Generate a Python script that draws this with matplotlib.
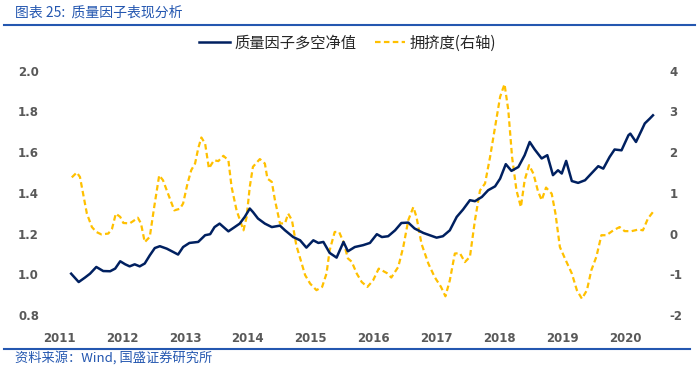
import matplotlib
matplotlib.use('Agg')
import matplotlib.pyplot as plt
from matplotlib.lines import Line2D

plt.rcParams['font.family'] = ['Noto Sans CJK SC', 'DejaVu Sans']

# 质量因子多空净值 (left axis), x in fractional years
qual_t = [2011.19, 2011.31, 2011.41, 2011.49, 2011.59, 2011.70, 2011.81, 2011.89, 2011.97,
          2012.05, 2012.12, 2012.20, 2012.28, 2012.36, 2012.44, 2012.52, 2012.60, 2012.71,
          2012.81, 2012.89, 2012.97, 2013.07, 2013.21, 2013.32, 2013.40, 2013.47, 2013.55,
          2013.69, 2013.79, 2013.87, 2013.95, 2014.03, 2014.08, 2014.16, 2014.27, 2014.38,
          2014.51, 2014.59, 2014.72, 2014.83, 2014.93, 2015.04, 2015.12, 2015.20, 2015.30,
          2015.41, 2015.52, 2015.59, 2015.70, 2015.83, 2015.94, 2016.05, 2016.13, 2016.23,
          2016.34, 2016.44, 2016.55, 2016.65, 2016.79, 2016.89, 2017.00, 2017.10, 2017.21,
          2017.32, 2017.42, 2017.53, 2017.61, 2017.72, 2017.82, 2017.93, 2018.01, 2018.10,
          2018.19, 2018.30, 2018.40, 2018.48, 2018.56, 2018.67, 2018.76, 2018.85, 2018.93,
          2018.99, 2019.06, 2019.15, 2019.25, 2019.36, 2019.46, 2019.57, 2019.65, 2019.75,
          2019.83, 2019.94, 2020.05, 2020.08, 2020.17, 2020.26, 2020.31, 2020.39, 2020.44]
qual_v = [1.003, 0.962, 0.984, 1.003, 1.036, 1.016, 1.015, 1.028, 1.064,
          1.049, 1.039, 1.049, 1.039, 1.053, 1.093, 1.129, 1.138, 1.126,
          1.110, 1.097, 1.134, 1.154, 1.159, 1.192, 1.197, 1.232, 1.249,
          1.211, 1.232, 1.249, 1.282, 1.323, 1.306, 1.274, 1.249, 1.232,
          1.239, 1.216, 1.183, 1.167, 1.131, 1.167, 1.154, 1.159, 1.105,
          1.082, 1.159, 1.113, 1.134, 1.143, 1.154, 1.197, 1.183, 1.187,
          1.216, 1.252, 1.254, 1.225, 1.203, 1.192, 1.180, 1.187, 1.216,
          1.282, 1.318, 1.364, 1.359, 1.380, 1.413, 1.432, 1.470, 1.541,
          1.508, 1.527, 1.585, 1.650, 1.613, 1.569, 1.585, 1.487, 1.511,
          1.495, 1.557, 1.458, 1.449, 1.462, 1.495, 1.531, 1.519, 1.576,
          1.613, 1.609, 1.683, 1.691, 1.650, 1.708, 1.741, 1.765, 1.781]

# 拥挤度 (right axis)
crowd_t = [2011.20, 2011.28, 2011.33, 2011.38, 2011.44, 2011.52, 2011.59, 2011.67, 2011.78,
           2011.84, 2011.90, 2011.97, 2012.02, 2012.12, 2012.18, 2012.25, 2012.30, 2012.36,
           2012.44, 2012.51, 2012.59, 2012.65, 2012.73, 2012.83, 2012.92, 2012.97, 2013.04,
           2013.10, 2013.16, 2013.21, 2013.26, 2013.32, 2013.38, 2013.46, 2013.53, 2013.61,
           2013.69, 2013.74, 2013.82, 2013.93, 2013.98, 2014.03, 2014.08, 2014.19, 2014.27,
           2014.31, 2014.38, 2014.43, 2014.51, 2014.59, 2014.64, 2014.70, 2014.77, 2014.91,
           2014.99, 2015.09, 2015.18, 2015.25, 2015.30, 2015.38, 2015.45, 2015.52, 2015.59,
           2015.65, 2015.73, 2015.81, 2015.90, 2015.99, 2016.08, 2016.21, 2016.28, 2016.39,
           2016.47, 2016.55, 2016.63, 2016.68, 2016.76, 2016.87, 2016.97, 2017.07, 2017.14,
           2017.21, 2017.29, 2017.37, 2017.45, 2017.53, 2017.61, 2017.69, 2017.77, 2017.85,
           2017.93, 2018.01, 2018.08, 2018.14, 2018.20, 2018.27, 2018.34, 2018.40, 2018.47,
           2018.54, 2018.61, 2018.67, 2018.74, 2018.83, 2018.89, 2018.96, 2019.04, 2019.15,
           2019.23, 2019.31, 2019.39, 2019.46, 2019.54, 2019.62, 2019.70, 2019.81, 2019.91,
           2019.99, 2020.10, 2020.21, 2020.28, 2020.36, 2020.44]
crowd_v = [1.38, 1.50, 1.39, 0.98, 0.49, 0.16, 0.04, -0.02, 0.00,
           0.12, 0.49, 0.41, 0.26, 0.25, 0.31, 0.39, 0.25, -0.21,
           -0.08, 0.65, 1.43, 1.31, 0.98, 0.57, 0.61, 0.74, 1.23,
           1.56, 1.72, 2.09, 2.36, 2.21, 1.60, 1.80, 1.78, 1.91,
           1.80, 1.15, 0.57, 0.08, 0.41, 1.15, 1.64, 1.83, 1.72,
           1.35, 1.27, 0.82, 0.25, 0.25, 0.49, 0.33, -0.29, -1.02,
           -1.23, -1.39, -1.31, -0.98, -0.41, 0.04, 0.04, -0.21, -0.61,
           -0.69, -0.98, -1.19, -1.31, -1.15, -0.86, -0.97, -1.08, -0.82,
           -0.33, 0.33, 0.65, 0.41, -0.25, -0.74, -1.07, -1.31, -1.54,
           -1.15, -0.49, -0.48, -0.70, -0.57, 0.33, 1.06, 1.23, 1.88,
           2.62, 3.36, 3.67, 3.03, 1.88, 1.06, 0.65, 1.31, 1.68,
           1.47, 1.05, 0.82, 1.13, 0.98, 0.49, -0.33, -0.61, -0.98,
           -1.39, -1.60, -1.39, -0.90, -0.57, -0.04, -0.04, 0.08, 0.16,
           0.06, 0.06, 0.10, 0.08, 0.37, 0.53]

years = [2011, 2012, 2013, 2014, 2015, 2016, 2017, 2018, 2019, 2020]
left_ticks = [0.8, 1.0, 1.2, 1.4, 1.6, 1.8, 2.0]
right_ticks = [-2, -1, 0, 1, 2, 3, 4]

navy = '#002060'
gold = '#FFC000'
grey = '#595959'
blue = '#2457b0'

fig = plt.figure(figsize=(7, 3.66), dpi=100)
ax = fig.add_axes([0.0657, 0.1393, 0.877, 0.6675])
ax2 = ax.twinx()

ax.plot(qual_t, qual_v, color=navy, lw=1.8, zorder=3)
ax2.plot(crowd_t, crowd_v, color=gold, lw=1.6, dashes=(2.5, 1.5))
ax.set_zorder(ax2.get_zorder() + 1)
ax.patch.set_visible(False)

ax.set_xlim(2010.79, 2020.55)
ax.set_ylim(0.8, 2.0)
ax2.set_ylim(-2, 4)

ax.set_xticks(years)
ax.set_xticklabels([str(y) for y in years])
ax.set_yticks(left_ticks)
ax.set_yticklabels(['%.1f' % v for v in left_ticks])
ax2.set_yticks(right_ticks)
ax2.set_yticklabels([str(v) for v in right_ticks])

for a in (ax, ax2):
    for s in a.spines.values():
        s.set_visible(False)
    a.tick_params(length=0, colors=grey)
    for lab in a.get_xticklabels() + a.get_yticklabels():
        lab.set_fontfamily('DejaVu Sans')
        lab.set_fontweight('bold')
        lab.set_fontsize(8.5)
        lab.set_color(grey)
ax.tick_params(axis='x', pad=12)
ax.tick_params(axis='y', pad=5)
ax2.tick_params(axis='y', pad=7)

handles = [Line2D([], [], color=navy, lw=1.8),
           Line2D([], [], color=gold, lw=1.6, dashes=(2.5, 1.5))]
fig.legend(handles, ['质量因子多空净值', '拥挤度(右轴)'], ncol=2, loc='center',
           bbox_to_anchor=(0.497, 1 - 43 / 366), frameon=False, fontsize=11,
           handlelength=2.0, handletextpad=0.3, columnspacing=1.2,
           labelcolor='#262626')

# header / footer
fig.text(15 / 700, 1 - 13 / 366, '图表 25:  质量因子表现分析', color=blue, fontsize=10,
         va='center', ha='left', style='italic')
fig.add_artist(Line2D([4 / 700, 695 / 700], [1 - 24.5 / 366, 1 - 24.5 / 366],
                      color=blue, lw=1.5))
fig.add_artist(Line2D([4 / 700, 690 / 700], [1 - 349 / 366, 1 - 349 / 366],
                      color=blue, lw=1.5))
fig.text(15 / 700, 1 - 357.5 / 366, '资料来源：Wind, 国盛证券研究所', color=blue, fontsize=9.5,
         va='center', ha='left', style='italic')

fig.savefig('out.png', dpi=100)
